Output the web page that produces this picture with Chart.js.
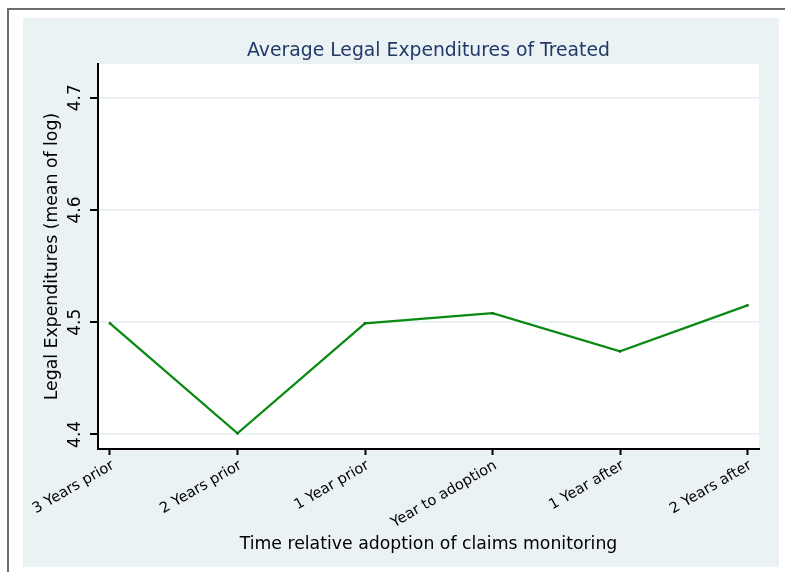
<!DOCTYPE html>
<html>
<head>
<meta charset="utf-8">
<title>Average Legal Expenditures of Treated</title>
<script src="https://cdn.jsdelivr.net/npm/chart.js@4.4.1/dist/chart.umd.min.js"></script>
<style>
  html, body { margin: 0; padding: 0; background: #ffffff; }
  #chart { display: block; }
</style>
</head>
<body>
<canvas id="chart" width="785" height="572"></canvas>
<script>
// Periods relative to adoption of claims monitoring
const periods = ['3 Years prior', '2 Years prior', '1 Year prior', 'Year to adoption', '1 Year after', '2 Years after'];
// Mean of log legal expenditures for treated firms
const meanLogExpenditures = [4.499, 4.401, 4.499, 4.508, 4.474, 4.515];
// Y axis tick values
const yTicks = [4.4, 4.5, 4.6, 4.7];

const FONT = "'DejaVu Sans', 'Liberation Sans', sans-serif";
const PANEL = '#eaf2f3';
const LINE = '#0a8a12';

// Paints the outer frame, tinted graph region and white plot region
const backdrop = {
  id: 'backdrop',
  beforeDraw(chart) {
    const { ctx, chartArea: a, width, height } = chart;
    ctx.save();
    ctx.fillStyle = '#ffffff';
    ctx.fillRect(0, 0, width, height);
    ctx.fillStyle = '#6e6e6e';
    ctx.fillRect(7, 8, 2, height - 8);
    ctx.fillRect(7, 8, width - 7, 2);
    ctx.fillStyle = PANEL;
    ctx.fillRect(23, 18, 756, 549);
    ctx.fillStyle = '#ffffff';
    ctx.fillRect(a.left, a.top, a.right - a.left, a.bottom - a.top);
    ctx.restore();
  }
};

new Chart(document.getElementById('chart'), {
  type: 'line',
  data: {
    datasets: [{
      data: meanLogExpenditures.map((v, i) => ({ x: i, y: v })),
      borderColor: LINE,
      backgroundColor: '#0a6e10',
      borderWidth: 2.3,
      pointRadius: 1.7,
      pointBorderWidth: 0,
      pointStyle: 'rect',
      tension: 0,
      fill: false
    }]
  },
  options: {
    responsive: false,
    animation: false,
    devicePixelRatio: 1,
    layout: { padding: { left: 23, right: 26, top: 18, bottom: 5 } },
    plugins: {
      legend: { display: false },
      tooltip: { enabled: false },
      title: {
        display: true,
        fullSize: false,
        text: 'Average Legal Expenditures of Treated',
        color: '#23396a',
        font: { family: FONT, size: 18.8, weight: 'normal', lineHeight: 1.2 },
        padding: { top: 22, bottom: 1.5 }
      }
    },
    scales: {
      x: {
        type: 'linear',
        min: -0.094,
        max: 5.09,
        afterBuildTicks(scale) { scale.ticks = periods.map((_, i) => ({ value: i })); },
        afterFit(scale) { scale.height = 118; },
        border: { display: true, color: '#000000', width: 2 },
        grid: {
          drawOnChartArea: false,
          drawTicks: true,
          tickLength: 6,
          tickColor: '#000000',
          tickWidth: 2
        },
        ticks: {
          autoSkip: false,
          minRotation: 30,
          maxRotation: 30,
          padding: 2,
          labelOffset: 3,
          color: '#000000',
          font: { family: FONT, size: 14.6 },
          callback: (value, index) => periods[index]
        },
        title: {
          display: true,
          text: 'Time relative adoption of claims monitoring',
          color: '#000000',
          font: { family: FONT, size: 17.3 },
          padding: { top: 0, bottom: 12 }
        }
      },
      y: {
        min: 4.387,
        max: 4.730,
        afterBuildTicks(scale) { scale.ticks = yTicks.map(v => ({ value: v })); },
        afterFit(scale) { scale.width = 75; },
        border: { display: true, color: '#000000', width: 2 },
        grid: {
          color: PANEL,
          lineWidth: 2,
          drawTicks: true,
          tickLength: 8,
          tickColor: '#000000',
          tickWidth: 2
        },
        ticks: {
          minRotation: 90,
          maxRotation: 90,
          crossAlign: 'center',
          padding: 1,
          color: '#000000',
          font: { family: FONT, size: 17 },
          callback: (value) => value.toFixed(1)
        },
        title: {
          display: true,
          text: 'Legal Expenditures (mean of log)',
          color: '#000000',
          font: { family: FONT, size: 17.3 },
          padding: { top: 19, bottom: 0 }
        }
      }
    }
  },
  plugins: [backdrop]
});
</script>
</body>
</html>
